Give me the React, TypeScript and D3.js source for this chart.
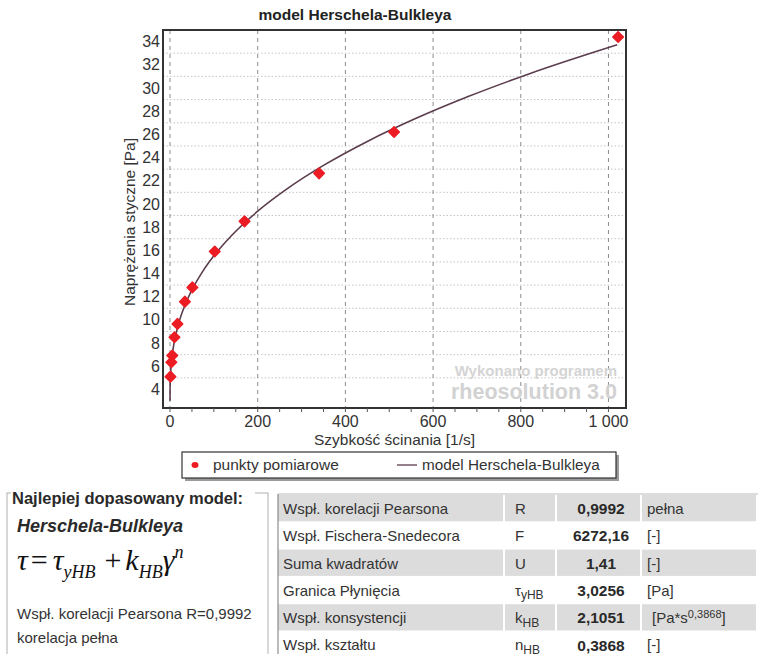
import React from "react";
import * as d3 from "d3";

// measured points
const shearRate = [1.02, 3.06, 5.1, 10.2, 17, 34, 51, 102, 170, 340, 511, 1022];
const shearStress = [5.1, 6.35, 6.92, 8.5, 9.65, 11.57, 12.8, 15.9, 18.5, 22.64, 26.2, 34.4];

// model curve
const modelRate = [0, 0.1, 0.5, 1, 2, 3, 5, 10, 20, 35, 50, 75, 100, 140, 200, 270, 350, 450, 560, 680, 820, 1020];
const modelStress = [3.03, 3.89, 4.64, 5.13, 5.78, 6.25, 6.95, 8.16, 9.73, 11.35, 12.59, 14.21, 15.53, 17.26, 19.37, 21.38, 23.32, 25.39, 27.36, 29.26, 31.23, 33.72];

const xTicks = [0, 200, 400, 600, 800, 1000];
const xTickLabels = ["0", "200", "400", "600", "800", "1 000"];
const xMinorTicks = d3.range(0, 1001, 50);
const yTicks = d3.range(4, 35, 2);
const yGrid = d3.range(5, 34, 2);

const tableNames = ["Wspł. korelacji Pearsona", "Wspł. Fischera-Snedecora", "Suma kwadratów", "Granica Płynięcia", "Wspł. konsystencji", "Wspł. kształtu"];
const tableSymbols = ["R", "F", "U", "τ|yHB", "k|HB", "n|HB"];
const tableValues = ["0,9992", "6272,16", "1,41", "3,0256", "2,1051", "0,3868"];
const tableUnits = ["pełna", "[-]", "[-]", "[Pa]", "PA_S", "[-]"];

const W = 758;
const H = 654;
const plot = { left: 163, top: 30, right: 626, bottom: 408 };

const SANS = "'Liberation Sans', Arial, sans-serif";
const SERIF = "'Liberation Serif', 'Times New Roman', serif";
const TXT = "#333";

export default function App() {
  const x = d3.scaleLinear().domain([-16, 1040]).range([plot.left, plot.right]);
  const y = d3.scaleLinear().domain([2.4, 35]).range([plot.bottom, plot.top]);

  const line = d3
    .line<number>()
    .x((_, i) => x(modelRate[i]))
    .y((d) => y(d))
    .curve(d3.curveMonotoneX);

  const diamond = d3.symbol().type(d3.symbolSquare).size(56)();

  const rowH = 27.3;
  const tTop = 494;
  const cols = [278, 505, 557, 642, 758];

  const renderSym = (s: string) => {
    const [main, sub] = s.split("|");
    if (!sub) return main;
    return (
      <>
        {main}
        <tspan fontSize={12} dy={3.5}>{sub}</tspan>
      </>
    );
  };

  return (
    <div style={{ position: "absolute", left: 0, top: 0 }}>
      <svg width={W} height={H} style={{ display: "block", background: "#fff" }}>
        {/* title */}
        <text x={355} y={20} textAnchor="middle" fontFamily={SANS} fontWeight="bold" fontSize={15.5} fill="#222">
          model Herschela-Bulkleya
        </text>

        {/* grid */}
        {yGrid.map((v) => (
          <line key={"hg" + v} x1={plot.left} x2={plot.right} y1={y(v)} y2={y(v)} stroke="#c4c4c4" strokeWidth={1} strokeDasharray="1.5,2" />
        ))}
        {xTicks.map((v) => (
          <line key={"vg" + v} x1={x(v)} x2={x(v)} y1={plot.top} y2={plot.bottom} stroke="#8c8c8c" strokeWidth={1} strokeDasharray="4,4" />
        ))}

        {/* watermark */}
        <text x={617} y={376} textAnchor="end" fontFamily={SANS} fontWeight="bold" fontSize={15} fill="#d4d4d4">
          Wykonano programem
        </text>
        <text x={617} y={399} textAnchor="end" fontFamily={SANS} fontWeight="bold" fontSize={21.5} fill="#d2d2d2">
          rheosolution 3.0
        </text>

        {/* model curve */}
        <path d={line(modelStress) || ""} fill="none" stroke="#5b3d4d" strokeWidth={1.6} />

        {/* points */}
        {shearRate.map((r, i) => (
          <path
            key={"p" + i}
            d={diamond || ""}
            transform={`translate(${x(r)},${y(shearStress[i])}) rotate(45)`}
            fill="#ec1c24"
            stroke="#ec1c24"
            strokeWidth={1.5}
            strokeLinejoin="round"
          />
        ))}

        {/* frame */}
        <rect x={plot.left} y={plot.top} width={plot.right - plot.left} height={plot.bottom - plot.top} fill="none" stroke="#333" strokeWidth={2} />

        {/* x ticks */}
        {xMinorTicks.map((v) => (
          <line key={"xt" + v} x1={x(v)} x2={x(v)} y1={plot.bottom} y2={plot.bottom + 4} stroke="#555" strokeWidth={1} />
        ))}
        {xTicks.map((v, i) => (
          <text key={"xl" + v} x={x(v)} y={427} textAnchor="middle" fontFamily={SANS} fontSize={16} fill={TXT}>
            {xTickLabels[i]}
          </text>
        ))}
        {yTicks.map((v) => (
          <text key={"yl" + v} x={160} y={y(v)} dy="0.35em" textAnchor="end" fontFamily={SANS} fontSize={16} fill={TXT}>
            {v}
          </text>
        ))}

        {/* axis titles */}
        <text x={394.5} y={445} textAnchor="middle" fontFamily={SANS} fontSize={15.5} fill={TXT}>
          Szybkość ścinania [1/s]
        </text>
        <text transform="translate(135,222) rotate(-90)" textAnchor="middle" fontFamily={SANS} fontSize={15.5} fill={TXT}>
          Naprężenia styczne [Pa]
        </text>

        {/* legend */}
        <rect x={185} y={455} width={434} height={26} fill="#9a9a9a" />
        <rect x={182} y={452} width={434} height={26} fill="#fff" stroke="#333" strokeWidth={1.2} />
        <ellipse cx={195} cy={465} rx={3.5} ry={3} fill="#ec1c24" />
        <text x={213} y={470} fontFamily={SANS} fontSize={15.5} fill={TXT}>
          punkty pomiarowe
        </text>
        <line x1={397} x2={417} y1={465} y2={465} stroke="#5b3d4d" strokeWidth={1.3} />
        <text x={422} y={470} fontFamily={SANS} fontSize={15.3} fill={TXT}>
          model Herschela-Bulkleya
        </text>

        {/* left box */}
        <rect x={7} y={493} width={261} height={200} fill="none" stroke="#b0b0b0" strokeWidth={1} />
        <rect x={11} y={485} width={244} height={16} fill="#fff" />
        <text x={12} y={504} fontFamily={SANS} fontWeight="bold" fontSize={16.5} fill="#2a2a2a">
          Najlepiej dopasowany model:
        </text>
        <text x={17} y={532} fontFamily={SANS} fontWeight="bold" fontStyle="italic" fontSize={18} fill="#2a2a2a">
          Herschela-Bulkleya
        </text>
        <text x={17} y={570} fontFamily={SERIF} fontStyle="italic" fontSize={30} fill="#111">
          τ<tspan fontStyle="normal" dx={3}>=</tspan>
          <tspan dx={5}>τ</tspan>
          <tspan fontSize={18} dy={8}>yHB</tspan>
          <tspan dy={-8} dx={9} fontStyle="normal">+</tspan>
          <tspan dx={4}>k</tspan>
          <tspan fontSize={18} dy={8}>HB</tspan>
          <tspan dy={-8}>γ</tspan>
          <tspan fontSize={18} dy={-12}>n</tspan>
        </text>
        <text x={17} y={619} fontFamily={SANS} fontSize={15} fill={TXT}>
          Wspł. korelacji Pearsona R=0,9992
        </text>
        <text x={17} y={643} fontFamily={SANS} fontSize={15} fill={TXT}>
          korelacja pełna
        </text>

        {/* table */}
        {tableNames.map((name, i) => {
          const top = tTop + i * rowH;
          const gray = i % 2 === 0;
          const cy = top + rowH / 2 + 1;
          return (
            <g key={"row" + i}>
              {gray &&
                cols.slice(0, 4).map((c, j) => (
                  <rect key={"c" + j} x={c} y={top + 1} width={cols[j + 1] - c - 2} height={rowH - 1} fill="#dcdcdc" />
                ))}
              <text x={283} y={cy} dy="0.35em" fontFamily={SANS} fontSize={15} fill={TXT}>
                {name}
              </text>
              <text x={515} y={cy} dy="0.35em" fontFamily={SANS} fontSize={15} fill={TXT}>
                {renderSym(tableSymbols[i])}
              </text>
              <text x={601} y={cy} dy="0.35em" textAnchor="middle" fontFamily={SANS} fontWeight="bold" fontSize={15.5} fill="#2a2a2a">
                {tableValues[i]}
              </text>
              <text x={tableUnits[i] === "PA_S" ? 652 : 647} y={cy} dy="0.35em" fontFamily={SANS} fontSize={15} fill={TXT}>
                {tableUnits[i] === "PA_S" ? (
                  <>
                    [Pa*s<tspan fontSize={11} dy={-5}>0,3868</tspan>
                    <tspan dy={5}>]</tspan>
                  </>
                ) : (
                  tableUnits[i]
                )}
              </text>
            </g>
          );
        })}
        <line x1={278} x2={758} y1={tTop} y2={tTop} stroke="#bbb" strokeWidth={1} />
        <line x1={278} x2={278} y1={tTop} y2={H} stroke="#777" strokeWidth={1} />
      </svg>
    </div>
  );
}
